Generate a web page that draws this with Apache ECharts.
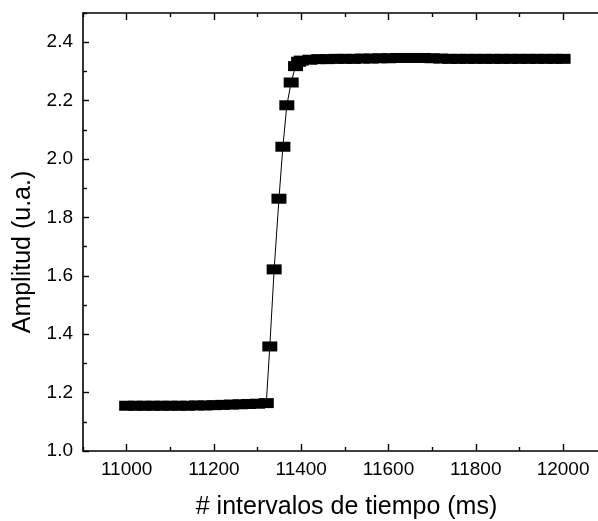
<!DOCTYPE html>
<html>
<head>
<meta charset="utf-8">
<script src="https://cdn.jsdelivr.net/npm/echarts@6/dist/echarts.min.js"></script>
<style>
  html, body { margin: 0; padding: 0; background: #fff; }
  #main { width: 598px; height: 521px; }
</style>
</head>
<body>
<div id="main"></div>
<script>
// tiempo (ms) y amplitud (u.a.)
var tiempo = [
  11000, 11020, 11040, 11060, 11080, 11100, 11120, 11140, 11160, 11180,
  11200, 11220, 11240, 11260, 11280, 11300, 11320,
  11328, 11338, 11349, 11358, 11367, 11377, 11387, 11394,
  11400, 11420, 11440, 11460, 11480, 11500, 11520, 11540, 11560, 11580,
  11600, 11620, 11640, 11660, 11680, 11700, 11720, 11740, 11760, 11780,
  11800, 11820, 11840, 11860, 11880, 11900, 11920, 11940, 11960, 11980, 12000
];
var amplitud = [
  1.155, 1.155, 1.155, 1.155, 1.155, 1.155, 1.155, 1.155, 1.156, 1.156,
  1.157, 1.158, 1.159, 1.160, 1.161, 1.162, 1.164,
  1.358, 1.622, 1.864, 2.042, 2.184, 2.262, 2.318, 2.333,
  2.337, 2.340, 2.342, 2.342, 2.343, 2.343, 2.343, 2.344, 2.344, 2.345,
  2.345, 2.346, 2.346, 2.346, 2.346, 2.345, 2.344, 2.343, 2.343, 2.343,
  2.343, 2.343, 2.343, 2.343, 2.343, 2.343, 2.343, 2.343, 2.343, 2.343, 2.343
];

var xMajor = [11000, 11200, 11400, 11600, 11800, 12000];
var xMinor = [10900, 11100, 11300, 11500, 11700, 11900];
var yMajor = [1.0, 1.2, 1.4, 1.6, 1.8, 2.0, 2.2, 2.4];
var yMinor = [1.1, 1.3, 1.5, 1.7, 1.9, 2.1, 2.3, 2.5];

var fuente = 'Arial, "Liberation Sans", sans-serif';
var lineaEje = { show: true, lineStyle: { color: '#000', width: 1.6 } };
var sinEje = { show: false };

var puntos = [];
for (var i = 0; i < tiempo.length; i++) {
  puntos.push([tiempo[i], amplitud[i]]);
}

function ejeX(pos, ticks, largo, conLinea, conTexto) {
  return {
    type: 'value',
    position: pos,
    min: 10900,
    max: 12080,
    axisLine: conLinea ? lineaEje : sinEje,
    axisTick: {
      show: true, inside: true, length: largo, customValues: ticks,
      lineStyle: { color: '#000', width: 1.4 }
    },
    axisLabel: conTexto ? {
      show: true, customValues: xMajor, margin: 9,
      color: '#000', fontSize: 19, fontFamily: fuente,
      formatter: function (v) { return String(v); }
    } : { show: false },
    splitLine: { show: false }
  };
}

function ejeY(ticks, largo, conLinea, conTexto) {
  return {
    type: 'value',
    position: 'left',
    min: 1.0,
    max: 2.5,
    axisLine: conLinea ? lineaEje : sinEje,
    axisTick: {
      show: true, inside: true, length: largo, customValues: ticks,
      lineStyle: { color: '#000', width: 1.4 }
    },
    axisLabel: conTexto ? {
      show: true, customValues: yMajor, margin: 10,
      color: '#000', fontSize: 19, fontFamily: fuente,
      formatter: function (v) { return v.toFixed(1); }
    } : { show: false },
    splitLine: { show: false }
  };
}

var chart = echarts.init(document.getElementById('main'));

var ejesX = [
  ejeX('bottom', xMajor, 7, true, true),
  ejeX('bottom', xMinor, 4, false, false),
  ejeX('top', xMajor, 7, true, false),
  ejeX('top', xMinor, 4, false, false)
];
ejesX[0].name = '# intervalos de tiempo (ms)';
ejesX[0].nameLocation = 'middle';
ejesX[0].nameGap = 44;
ejesX[0].nameTextStyle = { color: '#000', fontSize: 25, fontFamily: fuente, padding: [0, 0, 0, 12] };

var ejesY = [
  ejeY(yMajor, 6, true, true),
  ejeY(yMinor, 4, false, false)
];
ejesY[0].name = 'Amplitud (u.a.)';
ejesY[0].nameLocation = 'middle';
ejesY[0].nameGap = 42;
ejesY[0].nameTextStyle = {
  color: '#000', fontSize: 25, fontFamily: fuente, padding: [0, 40, 0, 0]
};

chart.setOption({
  animation: false,
  backgroundColor: '#fff',
  grid: { left: 83, right: 0, top: 13, bottom: 70, containLabel: false, outerBoundsMode: 'none' },
  xAxis: ejesX,
  yAxis: ejesY,
  series: [{
    type: 'line',
    xAxisIndex: 0,
    yAxisIndex: 0,
    data: puntos,
    symbol: 'rect',
    symbolSize: [15, 10],
    showAllSymbol: true,
    itemStyle: { color: '#000' },
    lineStyle: { color: '#000', width: 1 }
  }]
});
</script>
</body>
</html>
